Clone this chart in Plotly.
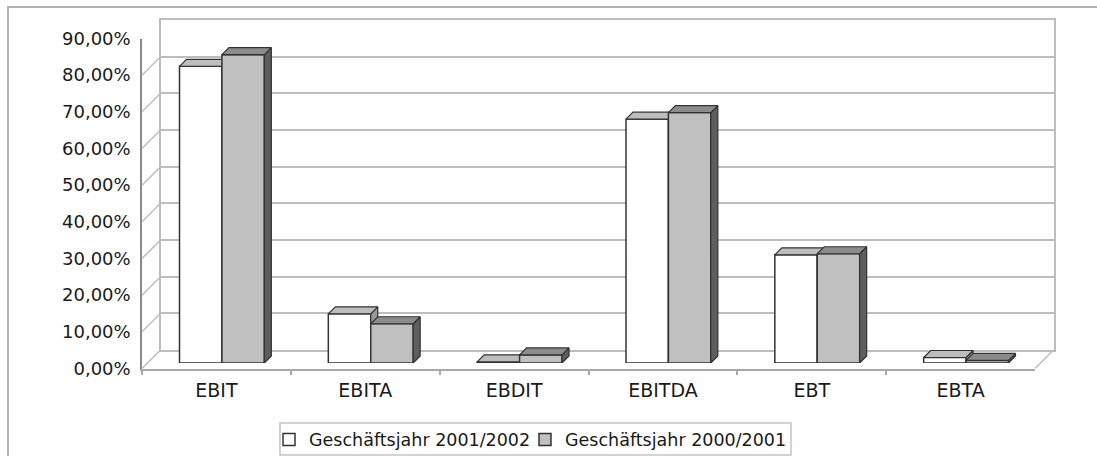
import plotly.graph_objects as go

# ---------------- data ----------------
categories = ["EBIT", "EBITA", "EBDIT", "EBITDA", "EBT", "EBTA"]
fy_2001_2002 = [80.9, 13.4, 0.3, 66.5, 29.5, 1.5]
fy_2000_2001 = [84.1, 10.7, 2.2, 68.3, 29.8, 0.7]
series_names = ["Geschäftsjahr 2001/2002", "Geschäftsjahr 2000/2001"]
y_ticks = [0, 10, 20, 30, 40, 50, 60, 70, 80, 90]
y_tick_labels = [f"{t},00%" for t in y_ticks]

# ---------------- geometry (pixels) ----------------
W, H = 1097, 456
FX0, FX1 = 142, 1035          # front plane x extent
FY0, FY90 = 368.5, 38.5       # front plane y of 0 and 90
DEPTH = 18.5                  # wall depth offset
BSHIFT = 5.5                  # bar front-plane offset
BDEPTH = 7                    # bar depth
BW = 0.285                    # bar width (category units)


def fx(p):
    return p / W


def fy(p):
    return 1 - p / H


FONT = "DejaVu Sans"
TXT = "#1a1a1a"
GRID = "#bdbdbd"
OUT = "#333333"

n = len(categories)
xpos = list(range(n))
cat_px = (FX1 - FX0) / n
val_px = (FY0 - FY90) / 90.0
ddx = BDEPTH / cat_px
ddy = BDEPTH / val_px

fig = go.Figure()

# invisible trace to anchor the front category axis
fig.add_trace(go.Scatter(x=categories, y=[0] * n, mode="markers",
                         marker=dict(opacity=0), showlegend=False,
                         hoverinfo="skip", xaxis="x", yaxis="y"))
# invisible trace for back wall axes
fig.add_trace(go.Scatter(x=[0], y=[0], mode="markers", marker=dict(opacity=0),
                         showlegend=False, hoverinfo="skip", xaxis="x2", yaxis="y2"))


def faces(vals, offset):
    tx, ty, sx, sy = [], [], [], []
    for i, v in zip(xpos, vals):
        a = i + offset
        b = a + BW
        tx += [a, b, b + ddx, a + ddx, a, None]
        ty += [v, v, v + ddy, v + ddy, v, None]
        sx += [b, b, b + ddx, b + ddx, b, None]
        sy += [0, v, v + ddy, ddy, 0, None]
    return tx, ty, sx, sy


styles = [
    dict(vals=fy_2001_2002, offset=-BW, front="#ffffff", top="#bdbdbd", side="#9a9a9a",
         xa="x3", ya="y3", legend="legend"),
    dict(vals=fy_2000_2001, offset=0.0, front="#c0c0c0", top="#8c8c8c", side="#5e5e5e",
         xa="x4", ya="y4", legend="legend2"),
]
for name, s in zip(series_names, styles):
    fig.add_trace(go.Bar(x=xpos, y=s["vals"], width=BW, offset=s["offset"], name=name,
                         marker=dict(color=s["front"], line=dict(color=OUT, width=1.5)),
                         xaxis=s["xa"], yaxis=s["ya"], hoverinfo="skip", legend=s["legend"]))
    tx, ty, sx, sy = faces(s["vals"], s["offset"])
    fig.add_trace(go.Scatter(x=sx, y=sy, fill="toself", fillcolor=s["side"], mode="lines",
                             line=dict(color=OUT, width=1.2), showlegend=False,
                             hoverinfo="skip", xaxis=s["xa"], yaxis=s["ya"]))
    fig.add_trace(go.Scatter(x=tx, y=ty, fill="toself", fillcolor=s["top"], mode="lines",
                             line=dict(color=OUT, width=1.2), showlegend=False,
                             hoverinfo="skip", xaxis=s["xa"], yaxis=s["ya"]))

shapes = []
# outer frame
shapes.append(dict(type="rect", xref="paper", yref="paper", x0=fx(8), x1=1.02, y0=-0.02, y1=fy(7),
                   line=dict(color="#b4b4b4", width=2), layer="below"))
# legend box
shapes.append(dict(type="rect", xref="paper", yref="paper", x0=fx(280), x1=fx(791), y0=fy(455), y1=fy(423),
                   line=dict(color="#c4c4c4", width=1.5), layer="below"))
# left wall diagonals
for t in y_ticks:
    shapes.append(dict(type="line", xref="paper", yref="y", xsizemode="pixel", ysizemode="pixel",
                       xanchor=fx(FX0), yanchor=t, x0=0, x1=DEPTH, y0=0, y1=DEPTH,
                       line=dict(color=GRID, width=1.5)))
# right floor diagonal
shapes.append(dict(type="line", xref="paper", yref="y", xsizemode="pixel", ysizemode="pixel",
                   xanchor=fx(FX1), yanchor=0, x0=0, x1=DEPTH, y0=0, y1=DEPTH,
                   line=dict(color=GRID, width=1.5)))

tickfont = dict(family=FONT, size=18, color=TXT)
legend_common = dict(orientation="h", xanchor="left", yanchor="middle", y=fy(439.5),
                     borderwidth=0, font=dict(family=FONT, size=17.5, color=TXT),
                     itemwidth=30, bgcolor="rgba(0,0,0,0)")
fig.update_layout(
    width=W, height=H, margin=dict(l=0, r=0, t=0, b=0, pad=0, autoexpand=False),
    paper_bgcolor="white", plot_bgcolor="rgba(0,0,0,0)",
    showlegend=True, shapes=shapes, barmode="overlay",
    xaxis=dict(domain=[fx(FX0), fx(FX1)], type="category", categoryorder="array",
               categoryarray=categories, range=[-0.5, n - 0.5], autorange=False,
               tickson="boundaries", ticks="outside", ticklen=5,
               tickcolor="#a8a8a8", tickwidth=1.5, showline=True, linecolor="#a8a8a8", linewidth=1.5,
               showgrid=False, zeroline=False, tickfont=dict(family=FONT, size=19, color=TXT),
               ticklabelstandoff=4, fixedrange=True, anchor="y"),
    yaxis=dict(domain=[fy(FY0), fy(FY90)], range=[0, 90], tickvals=y_ticks, ticktext=y_tick_labels,
               showline=True, linecolor="#8a8a8a", linewidth=1.5, ticks="", showgrid=False,
               zeroline=False, tickfont=tickfont, ticklabelstandoff=6, fixedrange=True, anchor="x"),
    xaxis2=dict(domain=[fx(FX0 + DEPTH), fx(FX1 + DEPTH)], range=[0, 1], showgrid=False,
                showticklabels=False, showline=True, mirror=True, linecolor=GRID, linewidth=1.5,
                zeroline=False, ticks="", anchor="y2", fixedrange=True),
    yaxis2=dict(domain=[fy(FY0 - DEPTH), fy(FY90 - DEPTH)], range=[0, 90], tickvals=y_ticks,
                showgrid=True, gridcolor=GRID, gridwidth=1.5, showticklabels=False, showline=True,
                mirror=True, linecolor=GRID, linewidth=1.5, zeroline=False, ticks="", anchor="x2",
                fixedrange=True),
    xaxis3=dict(domain=[fx(FX0 + BSHIFT), fx(FX1 + BSHIFT)], range=[-0.5, n - 0.5], visible=False,
                anchor="y3", fixedrange=True),
    yaxis3=dict(domain=[fy(FY0 - BSHIFT), fy(FY90 - BSHIFT)], range=[0, 90], visible=False,
                anchor="x3", fixedrange=True),
    xaxis4=dict(overlaying="x3", range=[-0.5, n - 0.5], visible=False, anchor="y4", fixedrange=True),
    yaxis4=dict(overlaying="y3", range=[0, 90], visible=False, anchor="x4", fixedrange=True),
    legend=dict(x=fx(269), **legend_common),
    legend2=dict(x=fx(525), **legend_common),
)

fig.write_html("out.html", config={"displayModeBar": False},
               post_script="document.body.style.margin='0';document.body.style.overflow='hidden';")
